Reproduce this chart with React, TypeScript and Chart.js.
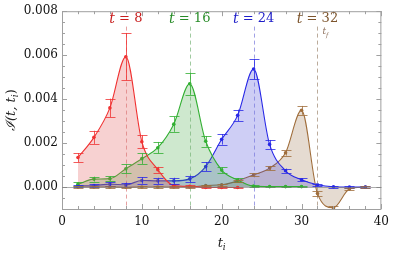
import React, { useEffect, useRef } from "react";
import { Chart, registerables } from "chart.js";
Chart.register(...registerables);

// ---- data ----
const tiRed = [2, 4, 6, 8, 10, 12, 14, 16, 18, 20, 22];
const valRed = [0.00134, 0.00226, 0.0036, 0.00593, 0.00206, 0.00079, 0.00007, 0.00003, -0.00002, -0.00002, -0.00002];
const errRed = [0.0002, 0.0003, 0.00042, 0.00108, 0.00029, 0.00013, 0.00006, 0.00005, 0.00004, 0.00004, 0.00004];

const tiGreen = [2, 4, 6, 8, 10, 12, 14, 16, 18, 20, 22, 24, 26, 28, 30];
const valGreen = [0.00013, 0.00036, 0.00038, 0.00083, 0.00129, 0.00179, 0.00286, 0.0047, 0.00208, 0.00077, 0.00032, 0.00004, 0.00002, 0.00002, 0.00002];
const errGreen = [0.00008, 0.00011, 0.0001, 0.0002, 0.00024, 0.00026, 0.00035, 0.00051, 0.00024, 0.00013, 0.00009, 0.00005, 0.00004, 0.00004, 0.00004];

const tiBlue = [2, 4, 6, 8, 10, 12, 14, 16, 18, 20, 22, 24, 26, 28, 30, 32, 34, 36, 38];
const valBlue = [0.00005, 0.00007, 0.00013, 0.0001, 0.0003, 0.00028, 0.00028, 0.00037, 0.00093, 0.00217, 0.00326, 0.00537, 0.00194, 0.00074, 0.00033, 0.0001, 0.00001, 0.0, 0.0];
const errBlue = [0.00005, 0.00007, 0.00008, 0.0001, 0.00015, 0.00014, 0.00014, 0.00015, 0.0002, 0.00024, 0.00026, 0.00045, 0.0002, 0.0001, 0.00007, 0.00006, 0.00004, 0.00003, 0.00003];

const tiBrown = [2, 4, 6, 8, 10, 12, 14, 16, 18, 20, 22, 24, 26, 28, 30, 32, 34, 36, 38];
const valBrown = [0.0, 0.0, 0.0, -0.00001, 0.0, 0.0, 0.0, 0.0, 0.00007, 0.0001, 0.00028, 0.00055, 0.00086, 0.00156, 0.00349, -0.0003, -0.00094, -0.00009, 0.0];
const errBrown = [0.00003, 0.00003, 0.00003, 0.00003, 0.00003, 0.00003, 0.00003, 0.00003, 0.00004, 0.00005, 0.00005, 0.00007, 0.0001, 0.00013, 0.0002, 0.00012, 0.00006, 0.00006, 0.00003];

const sinkTimes = [8, 16, 24, 32];
const sinkLabels = ["8", "16", "24", "32"];

const xMajorTicks = [0, 10, 20, 30, 40];
const xMinorTicks = [2, 4, 6, 8, 12, 14, 16, 18, 22, 24, 26, 28, 32, 34, 36, 38];
const yMajorTicks = [0, 0.002, 0.004, 0.006, 0.008];
const yMinorTicks = [-0.0005, 0.0005, 0.001, 0.0015, 0.0025, 0.003, 0.0035, 0.0045, 0.005, 0.0055, 0.0065, 0.007, 0.0075];

const lineColors = ["rgb(240,50,50)", "rgb(50,175,50)", "rgb(40,40,230)", "rgb(160,110,60)"];
const errColors = ["rgba(240,50,50,0.8)", "rgba(50,175,50,0.8)", "rgba(40,40,230,0.8)", "rgba(160,110,60,0.8)"];
const fillColors = ["rgba(225,90,90,0.28)", "rgba(60,165,60,0.25)", "rgba(60,60,215,0.25)", "rgba(150,110,70,0.25)"];
const labelColors = ["rgb(200,30,30)", "rgb(40,140,40)", "rgb(30,30,200)", "rgb(125,85,45)"];
const dashColors = ["rgba(220,120,120,0.7)", "rgba(120,180,120,0.7)", "rgba(120,120,220,0.7)", "rgba(170,150,130,0.8)"];

const SERIF = "'DejaVu Serif', 'Liberation Serif', serif";

function mk(ti: number[], v: number[]) {
  return ti.map((t, i) => ({ x: t, y: v[i] }));
}

const overlayPlugin = {
  id: "overlay",
  afterDatasetsDraw(chart: any) {
    const { ctx, chartArea: a } = chart;
    const xs = chart.scales.x;
    const ys = chart.scales.y;
    ctx.save();
    ctx.beginPath();
    ctx.rect(a.left, a.top, a.right - a.left, a.bottom - a.top);
    ctx.clip();
    // dashed sink lines
    sinkTimes.forEach((t, i) => {
      const x = Math.round(xs.getPixelForValue(t)) + 0.5;
      ctx.strokeStyle = dashColors[i];
      ctx.lineWidth = 1;
      ctx.setLineDash([4, 3]);
      ctx.beginPath();
      ctx.moveTo(x, ys.getPixelForValue(0.0073));
      ctx.lineTo(x, a.bottom);
      ctx.stroke();
    });
    ctx.setLineDash([]);
    // error bars
    chart.data.datasets.forEach((ds: any, i: number) => {
      const errs = ds.errors as number[];
      ctx.strokeStyle = errColors[i];
      ctx.lineWidth = 1;
      ds.data.forEach((p: any, j: number) => {
        const x = Math.round(xs.getPixelForValue(p.x)) + 0.5;
        const y1 = ys.getPixelForValue(p.y + errs[j]);
        const y2 = ys.getPixelForValue(p.y - errs[j]);
        ctx.beginPath();
        ctx.moveTo(x, y1);
        ctx.lineTo(x, y2);
        ctx.moveTo(x - 5, Math.round(y1) + 0.5);
        ctx.lineTo(x + 5, Math.round(y1) + 0.5);
        ctx.moveTo(x - 5, Math.round(y2) + 0.5);
        ctx.lineTo(x + 5, Math.round(y2) + 0.5);
        ctx.stroke();
      });
    });
    ctx.restore();
  },
  afterDraw(chart: any) {
    const { ctx, chartArea: a } = chart;
    const xs = chart.scales.x;
    const ys = chart.scales.y;
    ctx.save();
    ctx.strokeStyle = "rgb(160,160,160)";
    ctx.lineWidth = 1;
    ctx.strokeRect(a.left + 0.5, a.top + 0.5, a.right - a.left - 1, a.bottom - a.top);
    const tick = (vals: number[], len: number, horiz: boolean) => {
      vals.forEach((v) => {
        ctx.beginPath();
        if (horiz) {
          const x = Math.round(xs.getPixelForValue(v)) + 0.5;
          ctx.moveTo(x, a.bottom);
          ctx.lineTo(x, a.bottom - len);
          ctx.moveTo(x, a.top);
          ctx.lineTo(x, a.top + len);
        } else {
          const y = Math.round(ys.getPixelForValue(v)) + 0.5;
          ctx.moveTo(a.left, y);
          ctx.lineTo(a.left + len, y);
          ctx.moveTo(a.right, y);
          ctx.lineTo(a.right - len, y);
        }
        ctx.stroke();
      });
    };
    tick(xMajorTicks, 5, true);
    tick(xMinorTicks, 3, true);
    tick(yMajorTicks, 5, false);
    tick(yMinorTicks, 3, false);
    // zero line
    ctx.strokeStyle = "rgba(120,120,120,0.6)";
    const y0 = Math.round(ys.getPixelForValue(0)) + 0.5;
    ctx.beginPath();
    ctx.moveTo(a.left, y0);
    ctx.lineTo(a.right, y0);
    ctx.stroke();

    // sink labels "t = N"
    ctx.textBaseline = "middle";
    sinkTimes.forEach((t, i) => {
      const cx = xs.getPixelForValue(t);
      const cy = 19;
      const parts = [
        { s: "t", f: `italic 14px ${SERIF}` },
        { s: " = ", f: `13px ${SERIF}` },
        { s: sinkLabels[i], f: `13px ${SERIF}` },
      ];
      let w = 0;
      parts.forEach((p) => { ctx.font = p.f; w += ctx.measureText(p.s).width; });
      let x = cx - w / 2;
      ctx.fillStyle = labelColors[i];
      ctx.textAlign = "left";
      parts.forEach((p) => { ctx.font = p.f; ctx.fillText(p.s, x, cy); x += ctx.measureText(p.s).width; });
    });
    // t_f label
    const xf = xs.getPixelForValue(32) + 5;
    ctx.fillStyle = "rgb(140,110,90)";
    ctx.font = `italic 9px ${SERIF}`;
    ctx.fillText("t", xf, 32);
    ctx.font = `italic 6px ${SERIF}`;
    ctx.fillText("f", xf + 3.5, 35);

    // axis titles
    ctx.fillStyle = "#222";
    ctx.textAlign = "left";
    // x title t_i
    ctx.font = `italic 13px ${SERIF}`;
    const xt = (a.left + a.right) / 2 - 4;
    ctx.fillText("t", xt, 244);
    ctx.font = `italic 9px ${SERIF}`;
    ctx.fillText("i", xt + 5, 248);
    // y title
    ctx.translate(12, (a.top + a.bottom) / 2);
    ctx.rotate(-Math.PI / 2);
    const yparts = [
      { s: "ℐ(t, t", f: `italic 13px ${SERIF}`, dy: 0 },
      { s: "i", f: `italic 9px ${SERIF}`, dy: 4 },
      { s: ")", f: `13px ${SERIF}`, dy: 0 },
    ];
    let tw = 0;
    yparts.forEach((p) => { ctx.font = p.f; tw += ctx.measureText(p.s).width; });
    let px = -tw / 2;
    yparts.forEach((p) => { ctx.font = p.f; ctx.fillText(p.s, px, p.dy); px += ctx.measureText(p.s).width; });
    ctx.restore();
  },
};

export default function App() {
  const ref = useRef<HTMLCanvasElement | null>(null);
  useEffect(() => {
    if (!ref.current) return;
    const series = [
      { ti: tiRed, v: valRed, e: errRed },
      { ti: tiGreen, v: valGreen, e: errGreen },
      { ti: tiBlue, v: valBlue, e: errBlue },
      { ti: tiBrown, v: valBrown, e: errBrown },
    ];
    const chart = new Chart(ref.current, {
      type: "line",
      data: {
        datasets: series.map((s, i) => ({
          data: mk(s.ti, s.v),
          errors: s.e,
          borderColor: lineColors[i],
          backgroundColor: fillColors[i],
          pointBackgroundColor: lineColors[i],
          pointBorderWidth: 0,
          pointRadius: 1.8,
          borderWidth: 1.1,
          fill: "origin",
          cubicInterpolationMode: "monotone",
        })) as any,
      },
      options: {
        animation: false,
        responsive: false,
        events: [],
        layout: { padding: { top: 10, right: 8, left: 0, bottom: 0 } },
        plugins: { legend: { display: false }, tooltip: { enabled: false } },
        scales: {
          x: {
            type: "linear",
            min: 0,
            max: 40,
            grid: { display: false, drawTicks: false },
            border: { display: false },
            afterBuildTicks: (s: any) => { s.ticks = xMajorTicks.map((v) => ({ value: v })); },
            afterFit: (s: any) => { s.height = 45; },
            ticks: {
              padding: 6,
              color: "#111",
              font: { family: SERIF, size: 12 },
              callback: (v: any) => String(v),
            },
          },
          y: {
            type: "linear",
            min: -0.001,
            max: 0.008,
            grid: { display: false, drawTicks: false },
            border: { display: false },
            afterBuildTicks: (s: any) => { s.ticks = yMajorTicks.map((v) => ({ value: v })); },
            afterFit: (s: any) => { s.width = 62; },
            ticks: {
              padding: 4,
              color: "#111",
              font: { family: SERIF, size: 12 },
              callback: (v: any) => Number(v).toFixed(3),
            },
          },
        },
      },
      plugins: [overlayPlugin],
    });
    return () => chart.destroy();
  }, []);
  return (
    <div style={{ position: "absolute", left: 0, top: 0, width: 395, height: 254, background: "#fff" }}>
      <canvas ref={ref} width={395} height={254} style={{ display: "block" }} />
    </div>
  );
}
